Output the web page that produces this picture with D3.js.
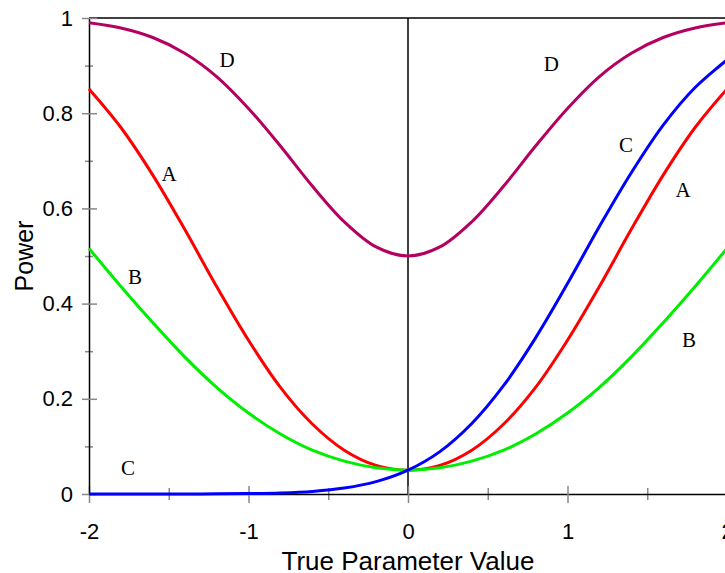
<!DOCTYPE html>
<html>
<head>
<meta charset="utf-8">
<script src="https://cdn.jsdelivr.net/npm/d3@7"></script>
<style>
	body { margin: 0; background: #fff; }
	svg { display: block; }
</style>
</head>
<body>
<svg width="725" height="573"></svg>
<script>
// true parameter values, step 0.2
var xs = [-2, -1.8, -1.6, -1.4, -1.2, -1, -0.8, -0.6, -0.4, -0.2, 0, 0.2, 0.4, 0.6, 0.8, 1, 1.2, 1.4, 1.6, 1.8, 2];

var powerA = [0.851, 0.770, 0.670, 0.556, 0.436, 0.323, 0.224, 0.147, 0.092, 0.060, 0.050, 0.060, 0.092, 0.147, 0.224, 0.323, 0.436, 0.556, 0.670, 0.770, 0.851];
var powerB = [0.516, 0.436, 0.360, 0.288, 0.224, 0.170, 0.126, 0.092, 0.069, 0.055, 0.050, 0.055, 0.069, 0.092, 0.126, 0.170, 0.224, 0.288, 0.360, 0.436, 0.516];
var powerC = [0, 0, 0, 0.0001, 0.0003, 0.0008, 0.0022, 0.0055, 0.0124, 0.0259, 0.050, 0.089, 0.148, 0.228, 0.328, 0.442, 0.562, 0.675, 0.775, 0.854, 0.912];
var powerD = [0.990, 0.979, 0.959, 0.926, 0.877, 0.810, 0.731, 0.647, 0.572, 0.519, 0.500, 0.519, 0.572, 0.647, 0.731, 0.810, 0.877, 0.926, 0.959, 0.979, 0.990];

var seriesNames = ['A', 'B', 'C', 'D'];
var seriesColors = ['#ff0000', '#00ee00', '#0000ff', '#b4005f'];

// curve labels, two per series
var labelNames = ['D', 'D', 'A', 'A', 'B', 'B', 'C', 'C'];
var labelX = [-1.135, 0.899, -1.498, 1.724, -1.712, 1.762, -1.755, 1.367];
var labelY = [0.912, 0.905, 0.674, 0.639, 0.456, 0.324, 0.055, 0.733];

var xMajor = [-2, -1, 0, 1, 2];
var xMinor = [-1.5, -0.5, 0.5, 1.5];
var yMajor = [0, 0.2, 0.4, 0.6, 0.8, 1];
var yMinor = [0.1, 0.3, 0.5, 0.7, 0.9];

var svg = d3.select('svg');

var x = d3.scaleLinear().domain([-2, 2]).range([89, 727]);
var y = d3.scaleLinear().domain([0, 1]).range([494, 18]);

// frame top and zero line
svg.append('line')
	.attr('x1', x(-2)).attr('x2', x(2))
	.attr('y1', y(1)).attr('y2', y(1))
	.attr('stroke', '#000').attr('stroke-width', 1.5);

svg.append('line')
	.attr('x1', x(0)).attr('x2', x(0))
	.attr('y1', y(1)).attr('y2', y(0))
	.attr('stroke', '#000').attr('stroke-width', 1.5);

// x axis
var xMinorAxis = svg.append('g')
	.attr('transform', 'translate(0,' + y(0) + ')')
	.call(d3.axisBottom(x).tickValues(xMinor).tickFormat('').tickSizeOuter(0));
xMinorAxis.select('.domain').remove();
xMinorAxis.selectAll('.tick line').attr('y1', -6).attr('y2', 6).attr('stroke', '#888').attr('stroke-width', 1.5);

var xAxis = svg.append('g')
	.attr('transform', 'translate(0,' + y(0) + ')')
	.call(d3.axisBottom(x).tickValues(xMajor).tickFormat(d3.format('d')).tickSizeOuter(0));
xAxis.select('.domain').attr('stroke', '#000').attr('stroke-width', 1.5);
xAxis.selectAll('.tick line').attr('y1', -8).attr('y2', 9).attr('stroke', '#888').attr('stroke-width', 1.5);
xAxis.selectAll('.tick text')
	.attr('y', 29)
	.attr('font-family', 'Arial, "Liberation Sans", sans-serif')
	.attr('font-size', 22)
	.attr('fill', '#000')
	.text(function(d) { return d < 0 ? '-' + Math.abs(d) : d; });

// y axis
var yMinorAxis = svg.append('g')
	.attr('transform', 'translate(' + x(-2) + ',0)')
	.call(d3.axisLeft(y).tickValues(yMinor).tickFormat('').tickSizeOuter(0));
yMinorAxis.select('.domain').remove();
yMinorAxis.selectAll('.tick line').attr('x1', -4).attr('x2', 4).attr('stroke', '#888').attr('stroke-width', 1.5);

var yAxis = svg.append('g')
	.attr('transform', 'translate(' + x(-2) + ',0)')
	.call(d3.axisLeft(y).tickValues(yMajor).tickFormat(function(d) { return d; }).tickSizeOuter(0));
yAxis.select('.domain').attr('stroke', '#000').attr('stroke-width', 1.5);
yAxis.selectAll('.tick line').attr('x1', -7).attr('x2', 8).attr('stroke', '#888').attr('stroke-width', 1.5);
yAxis.selectAll('.tick text')
	.attr('x', -16)
	.attr('font-family', 'Arial, "Liberation Sans", sans-serif')
	.attr('font-size', 22)
	.attr('fill', '#000');

// power curves
var allSeries = [powerA, powerB, powerC, powerD];
var line = d3.line()
	.x(function(d, i) { return x(xs[i]); })
	.y(function(d) { return y(d); })
	.curve(d3.curveCatmullRom);

svg.append('g').selectAll('path')
	.data(allSeries)
	.enter().append('path')
		.attr('d', line)
		.attr('fill', 'none')
		.attr('stroke', function(d, i) { return seriesColors[i]; })
		.attr('stroke-width', 3);

// curve labels
svg.append('g').selectAll('text')
	.data(labelNames)
	.enter().append('text')
		.attr('x', function(d, i) { return x(labelX[i]); })
		.attr('y', function(d, i) { return y(labelY[i]); })
		.attr('dy', '0.35em')
		.attr('text-anchor', 'middle')
		.attr('font-family', '"Liberation Serif", "Times New Roman", serif')
		.attr('font-size', 21)
		.attr('fill', '#000')
		.text(function(d) { return d; });

// axis titles
svg.append('text')
	.attr('x', x(0))
	.attr('y', 570)
	.attr('text-anchor', 'middle')
	.attr('font-family', 'Arial, "Liberation Sans", sans-serif')
	.attr('font-size', 26)
	.text('True Parameter Value');

svg.append('text')
	.attr('transform', 'translate(33,' + y(0.5) + ') rotate(-90)')
	.attr('text-anchor', 'middle')
	.attr('font-family', 'Arial, "Liberation Sans", sans-serif')
	.attr('font-size', 25)
	.text('Power');
</script>
</body>
</html>
